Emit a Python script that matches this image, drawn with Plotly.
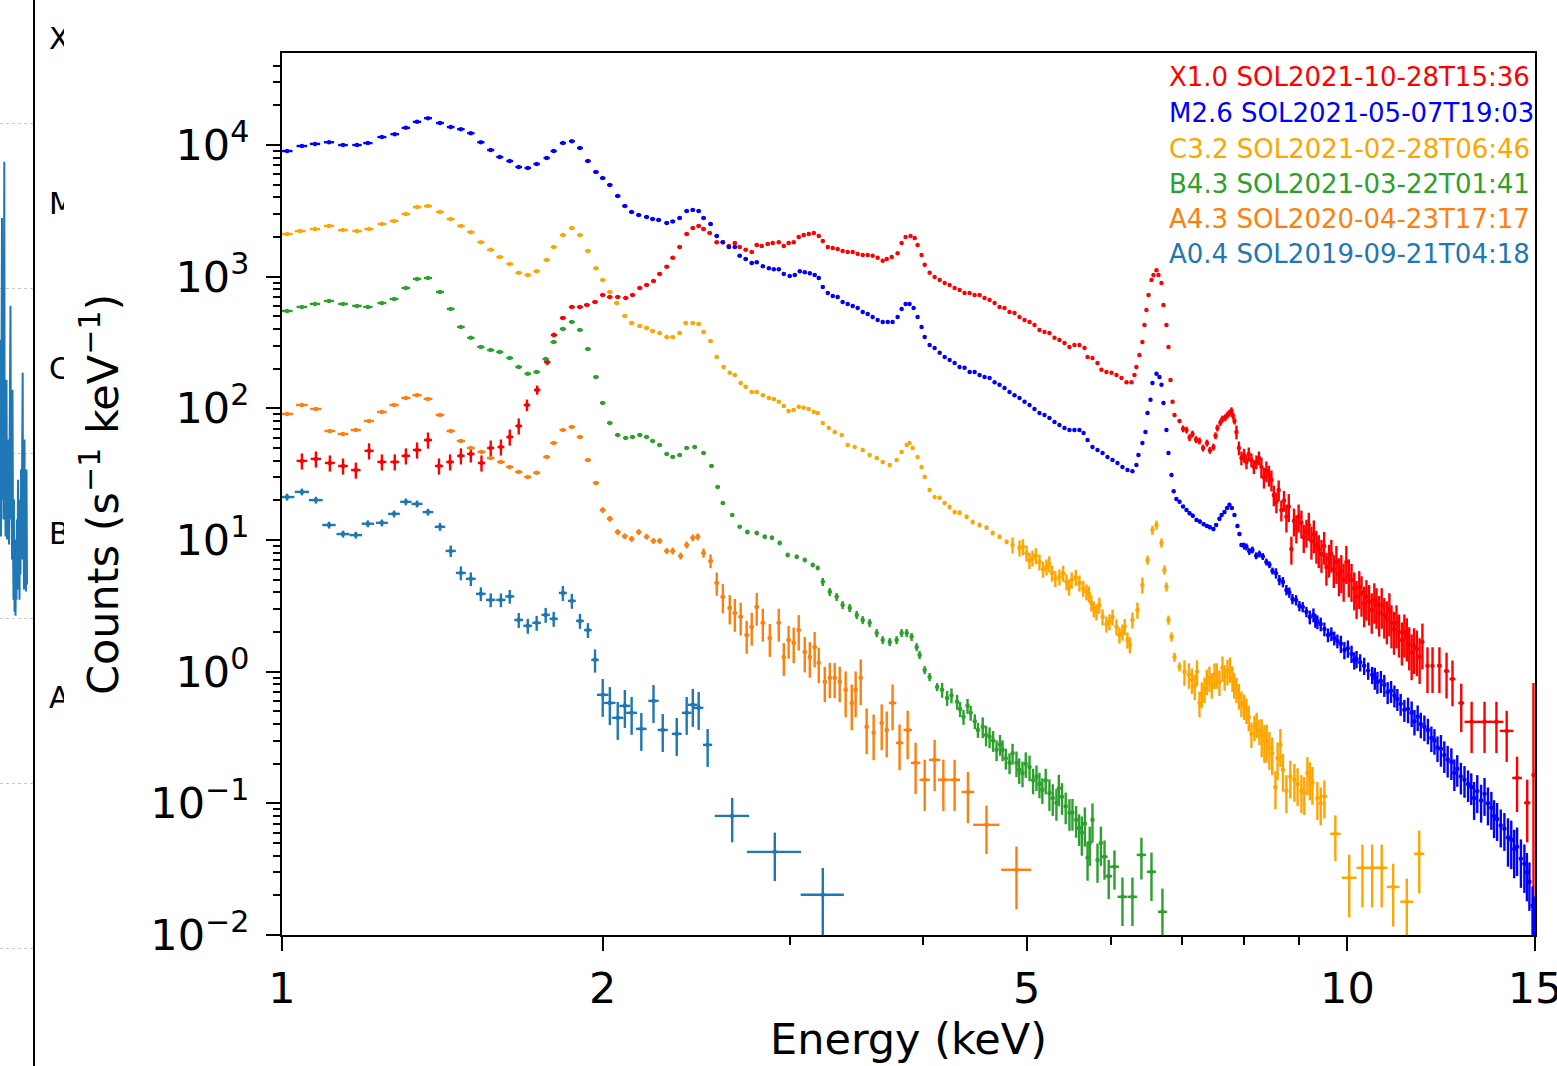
import plotly.graph_objects as go
import math

W, H = 1557, 1066

# ---------------- data ----------------
labels = ["X1.0 SOL2021-10-28T15:36", "M2.6 SOL2021-05-07T19:03", "C3.2 SOL2021-02-28T06:46",
          "B4.3 SOL2021-03-22T01:41", "A4.3 SOL2020-04-23T17:17", "A0.4 SOL2019-09-21T04:18"]
colors = ["#ff0000", "#0000ff", "#ffa500", "#2ca02c", "#ff7f0e", "#1f77b4"]

x10_energy = [
    1.044, 1.076, 1.109, 1.141, 1.173, 1.207, 1.241, 1.276, 1.307, 1.339,
    1.371, 1.404, 1.438, 1.472, 1.504, 1.539, 1.570, 1.605, 1.636, 1.668,
    1.698, 1.736, 1.774, 1.800, 1.835, 1.871, 1.904, 1.933, 1.967, 2.000,
    2.031, 2.066, 2.102, 2.133, 2.167, 2.199, 2.232, 2.262, 2.297, 2.327,
    2.362, 2.398, 2.430, 2.461, 2.487, 2.520, 2.559, 2.593, 2.627, 2.661,
    2.689, 2.724, 2.760, 2.790, 2.820, 2.857, 2.888, 2.926, 2.958, 2.989,
    3.022, 3.055, 3.088, 3.122, 3.156, 3.190, 3.218, 3.253, 3.288, 3.323,
    3.359, 3.396, 3.433, 3.470, 3.508, 3.546, 3.584, 3.623, 3.663, 3.695,
    3.735, 3.783, 3.816, 3.849, 3.890, 3.925, 3.950, 3.984, 4.011, 4.054,
    4.098, 4.143, 4.188, 4.233, 4.279, 4.325, 4.372, 4.420, 4.468, 4.516,
    4.565, 4.615, 4.665, 4.715, 4.766, 4.818, 4.870, 4.923, 4.977, 5.031,
    5.085, 5.140, 5.196, 5.252, 5.310, 5.367, 5.426, 5.484, 5.544, 5.604,
    5.666, 5.703, 5.764, 5.827, 5.877, 5.941, 6.006, 6.071, 6.137, 6.204,
    6.271, 6.311, 6.338, 6.380, 6.421, 6.449, 6.477, 6.506, 6.548, 6.576,
    6.619, 6.648, 6.691, 6.720, 6.763, 6.793, 6.823, 6.853, 6.882, 6.957,
    7.01, 7.063, 7.11, 7.155, 7.21, 7.264, 7.32, 7.383, 7.43, 7.486,
    7.52, 7.551, 7.60, 7.634, 7.68, 7.717, 7.75, 7.784, 7.81, 7.834,
    7.868, 7.91, 7.953, 8.00, 8.040, 8.08, 8.127, 8.17, 8.215, 8.26,
    8.304, 8.35, 8.394, 8.44, 8.486, 8.53, 8.578, 8.62, 8.670, 8.72,
    8.765, 8.81, 8.860, 8.91, 8.956, 9.00, 9.054, 9.10, 9.152, 9.20,
    9.252, 9.30, 9.352, 9.40, 9.455, 9.51, 9.557, 9.61, 9.659, 9.71,
    9.765, 9.82, 9.870, 9.92, 9.977, 10.03, 10.09, 10.15, 10.20, 10.26,
    10.31, 10.37, 10.42, 10.48, 10.54, 10.60, 10.65, 10.71, 10.77, 10.83,
    10.89, 10.95, 11.00, 11.06, 11.12, 11.18, 11.25, 11.31, 11.37, 11.43,
    11.49, 11.55, 11.62, 11.69, 11.76, 11.89, 12.02, 12.20, 12.39, 12.55,
    12.79, 13.08, 13.45, 13.80, 14.11, 14.43, 14.75, 14.95]
x10_counts = [
    39.9, 41.3, 38.5, 36.5, 34.0, 47.6, 39.2, 39.2, 43.6, 48.3,
    57.5, 36.5, 39.2, 43.6, 45.1, 38.5, 50.0, 50.9, 60.6, 73.5,
    106, 138, 225, 361, 486, 589, 589, 610, 643, 726,
    701, 701, 689, 726, 820, 865, 927, 1050, 1190, 1390,
    1680, 2110, 2340, 2430, 2300, 2150, 1830, 1830, 1710, 1800,
    1680, 1600, 1540, 1740, 1710, 1770, 1800, 1830, 1710, 1800,
    1830, 2000, 2070, 2110, 2150, 2040, 1870, 1680, 1650, 1620,
    1570, 1540, 1540, 1490, 1460, 1460, 1440, 1390, 1320, 1360,
    1410, 1510, 1800, 2000, 2040, 1970, 1740, 1460, 1230, 1070,
    995, 944, 896, 865, 820, 793, 752, 752, 726, 726,
    689, 666, 631, 589, 579, 540, 530, 495, 469, 453,
    430, 394, 380, 374, 343, 331, 314, 293, 303, 303,
    287, 246, 241, 221, 196, 189, 186, 179, 170, 158,
    158, 179, 206, 254, 319, 430, 559, 726, 944, 1030,
    1120, 1030, 896, 610, 430, 293, 164, 112, 89.1, 80.2,
    70, 68.5, 60, 63.9, 58, 56.6, 50, 54.6, 48, 50.9,
    62, 71.0, 78, 83.2, 85, 89.1, 92, 96.1, 88, 80.2,
    66.2, 50, 42.0, 44, 39.2, 45, 40.5, 36, 39.2, 42,
    35.9, 30, 33.5, 31, 28.6, 22, 19.5, 24, 16.9, 20,
    15.0, 18, 8.56, 14, 12.4, 15, 13.5, 10.5, 11.5, 13,
    9.85, 11, 9.18, 8.5, 7.83, 9.0, 6.25, 7.2, 7.83, 6.0,
    6.82, 5.5, 5.82, 5.0, 6.82, 5.4, 4.98, 4.3, 3.70, 4.4,
    3.96, 3.3, 3.70, 3.4, 2.94, 3.5, 3.21, 2.8, 3.21, 2.7,
    2.52, 2.9, 2.35, 2.1, 2.35, 2.0, 1.74, 2.0, 1.87, 1.6,
    1.39, 1.55, 1.49, 1.3, 1.68, 1.11, 1.11, 1.11, 1.01, 0.881,
    0.579, 0.416, 0.416, 0.416, 0.355, 0.156, 0.101, 0.164]
x10_relerr = ([0.14] * 20 + [0.1, 0.08, 0.05, 0.04, 0.03, 0.03, 0.03, 0.02, 0.02, 0.02]
              + [0.015] * 120 + [0.06] * 20 + [0.12] * 10 + [0.18] * 10 + [0.24] * 10
              + [0.28] * 10 + [0.32] * 10 + [0.34] * 10 + [0.36] * 10 + [0.38] * 10
              + [0.4, 0.42, 0.42, 0.42, 0.42, 0.45, 0.5, 4.0])
x10_halfwidth = [0.012] * 247 + [0.06, 0.07, 0.08, 0.08, 0.20, 0.20, 0.21, 0.21, 0.15, 0.10, 0.03]

m26_energy = [
    1.011, 1.044, 1.074, 1.107, 1.141, 1.176, 1.204, 1.241, 1.276, 1.307,
    1.339, 1.371, 1.407, 1.440, 1.472, 1.504, 1.537, 1.570, 1.601, 1.636,
    1.668, 1.701, 1.734, 1.772, 1.799, 1.835, 1.871, 1.904, 1.937, 1.971,
    2.000, 2.031, 2.066, 2.098, 2.129, 2.162, 2.199, 2.228, 2.257, 2.297,
    2.327, 2.362, 2.398, 2.430, 2.461, 2.487, 2.525, 2.559, 2.593, 2.627,
    2.661, 2.689, 2.724, 2.760, 2.790, 2.827, 2.864, 2.895, 2.926, 2.958,
    2.996, 3.029, 3.062, 3.095, 3.129, 3.162, 3.190, 3.218, 3.253, 3.288,
    3.323, 3.359, 3.396, 3.433, 3.470, 3.508, 3.546, 3.584, 3.623, 3.663,
    3.703, 3.742, 3.783, 3.816, 3.849, 3.882, 3.916, 3.950, 3.984, 4.011,
    4.054, 4.098, 4.143, 4.188, 4.233, 4.279, 4.325, 4.372, 4.420, 4.468,
    4.516, 4.565, 4.615, 4.665, 4.715, 4.766, 4.818, 4.870, 4.923, 4.977,
    5.031, 5.085, 5.140, 5.196, 5.252, 5.310, 5.367, 5.426, 5.484, 5.544,
    5.604, 5.654, 5.703, 5.764, 5.827, 5.891, 5.954, 6.019, 6.084, 6.150,
    6.217, 6.284, 6.338, 6.366, 6.421, 6.463, 6.492, 6.534, 6.562, 6.619,
    6.662, 6.691, 6.720, 6.763, 6.793, 6.838, 6.87, 6.91, 6.957, 7.01,
    7.063, 7.11, 7.16, 7.217, 7.27, 7.33, 7.383, 7.43, 7.486, 7.53,
    7.584, 7.62, 7.667, 7.71, 7.750, 7.79, 7.834, 7.885, 7.919, 7.953,
    8.00, 8.040, 8.09, 8.144, 8.21, 8.268, 8.33, 8.394, 8.45, 8.505,
    8.57, 8.633, 8.70, 8.765, 8.82, 8.880, 8.95, 9.015, 9.08, 9.152,
    9.22, 9.292, 9.33, 9.372, 9.44, 9.515, 9.59, 9.659, 9.72, 9.786,
    9.86, 9.935, 10.01, 10.09, 10.15, 10.20, 10.28, 10.37, 10.46, 10.55,
    10.61, 10.67, 10.75, 10.83, 10.91, 10.99, 11.07, 11.14, 11.22, 11.31,
    11.40, 11.49, 11.56, 11.64, 11.72, 11.81, 11.90, 11.99, 12.07, 12.15,
    12.24, 12.33, 12.42, 12.52, 12.60, 12.68, 12.78, 12.88, 12.98, 13.07,
    13.15, 13.24, 13.35, 13.45, 13.55, 13.65, 13.73, 13.82, 13.93, 14.04,
    14.15, 14.25, 14.34, 14.43, 14.55, 14.66, 14.74, 14.82, 14.92, 14.97]
m26_counts = [
    9000, 9830, 10200, 10500, 10000, 10000, 10350, 11500, 12100, 13500,
    15000, 16000, 14700, 13700, 13200, 12300, 10500, 9160, 8110, 7560,
    6810, 6690, 7170, 7970, 9000, 10350, 10700, 9490, 7560, 6240,
    5610, 4970, 4100, 3440, 3100, 2940, 2840, 2740, 2700, 2560,
    2630, 2790, 3150, 3210, 3150, 2790, 2510, 2040, 1830, 1680,
    1680, 1440, 1360, 1270, 1290, 1200, 1160, 1140, 1140, 1050,
    1010, 1030, 1100, 1080, 1060, 1030, 977, 835, 752, 713,
    700, 643, 621, 600, 579, 540, 521, 495, 469, 453,
    453, 453, 495, 569, 621, 621, 579, 495, 415, 348,
    303, 287, 264, 246, 233, 221, 206, 203, 189, 189,
    179, 173, 170, 158, 151, 143, 133, 126, 120, 112,
    106, 98.9, 92.2, 89.1, 84.5, 78.8, 74.8, 71.0, 68.5, 68.5,
    68.5, 65.0, 57.5, 50.9, 48.3, 45.8, 42.8, 40.5, 38.5, 35.9,
    34.0, 33.3, 37.1, 44.2, 54.6, 66.2, 92.2, 116, 156, 183,
    173, 151, 110, 68.5, 45.8, 31.2, 23.5, 20.5, 19.5, 18.0,
    16.9, 16.0, 15.3, 14.2, 13.8, 13.2, 12.8, 12.5, 12.1, 13.0,
    14.5, 15.5, 16.3, 17.5, 18.5, 17.5, 15.5, 12.8, 11.1, 9.18,
    9.0, 8.87, 8.2, 8.41, 7.6, 7.83, 7.5, 6.82, 6.5, 5.82,
    5.6, 4.98, 4.8, 4.18, 4.0, 3.57, 3.5, 3.16, 3.1, 2.85,
    2.6, 2.70, 2.45, 2.39, 2.3, 2.11, 1.9, 1.94, 1.80, 1.71,
    1.63, 1.46, 1.50, 1.37, 1.22, 1.25, 1.18, 1.11, 1.02, 0.946,
    0.90, 0.838, 0.85, 0.794, 0.70, 0.715, 0.66, 0.621, 0.57, 0.513,
    0.52, 0.487, 0.42, 0.454, 0.40, 0.381, 0.36, 0.314, 0.30, 0.264,
    0.26, 0.233, 0.215, 0.206, 0.17, 0.183, 0.16, 0.151, 0.14, 0.133,
    0.11, 0.124, 0.105, 0.118, 0.10, 0.0925, 0.08, 0.0762, 0.068, 0.0640,
    0.055, 0.0528, 0.045, 0.0468, 0.038, 0.0348, 0.030, 0.0254, 0.0167, 0.014]
m26_relerr = ([0.01] * 130 + [0.02] * 10 + [0.025] * 10 + [0.035] * 20 + [0.06] * 10
              + [0.09] * 10 + [0.12] * 10 + [0.15] * 10 + [0.19] * 10 + [0.22] * 10
              + [0.27] * 10 + [0.32] * 10 + [0.4] * 10)
m26_halfwidth = [0.012] * 260

c32_energy = [
    1.011, 1.040, 1.074, 1.107, 1.141, 1.176, 1.207, 1.241, 1.274, 1.307,
    1.339, 1.371, 1.407, 1.440, 1.472, 1.504, 1.537, 1.570, 1.601, 1.636,
    1.668, 1.701, 1.734, 1.772, 1.799, 1.835, 1.871, 1.904, 1.937, 1.971,
    2.000, 2.031, 2.062, 2.098, 2.129, 2.167, 2.199, 2.228, 2.262, 2.297,
    2.327, 2.362, 2.393, 2.430, 2.461, 2.487, 2.525, 2.559, 2.598, 2.632,
    2.661, 2.695, 2.724, 2.760, 2.790, 2.827, 2.864, 2.895, 2.926, 2.958,
    2.989, 3.022, 3.055, 3.088, 3.122, 3.156, 3.183, 3.218, 3.260, 3.302,
    3.352, 3.396, 3.448, 3.508, 3.561, 3.616, 3.663, 3.719, 3.775, 3.816,
    3.858, 3.882, 3.908, 3.950, 3.984, 4.011, 4.054, 4.098, 4.143, 4.188,
    4.233, 4.279, 4.325, 4.391, 4.449, 4.516, 4.584, 4.646, 4.715, 4.788,
    4.850, 4.923, 4.96, 4.998, 5.03, 5.063, 5.10, 5.140, 5.18, 5.218,
    5.25, 5.281, 5.32, 5.367, 5.41, 5.449, 5.48, 5.511, 5.56, 5.604,
    5.65, 5.690, 5.72, 5.750, 5.78, 5.814, 5.85, 5.891, 5.94, 5.980,
    6.02, 6.071, 6.11, 6.150, 6.18, 6.217, 6.25, 6.284, 6.352, 6.421,
    6.492, 6.562, 6.619, 6.691, 6.734, 6.763, 6.793, 6.838, 6.882, 6.957,
    7.032, 7.10, 7.147, 7.19, 7.225, 7.264, 7.30, 7.343, 7.38, 7.422,
    7.46, 7.503, 7.54, 7.584, 7.634, 7.67, 7.717, 7.76, 7.801, 7.83,
    7.868, 7.91, 7.953, 8.00, 8.040, 8.08, 8.127, 8.180, 8.22, 8.268,
    8.31, 8.358, 8.40, 8.449, 8.50, 8.560, 8.60, 8.652, 8.70, 8.765,
    8.84, 8.918, 8.98, 9.054, 9.11, 9.172, 9.22, 9.272, 9.372, 9.44,
    9.515, 9.744, 10.04, 10.33, 10.55, 10.77, 11.04, 11.37, 11.68]
c32_counts = [
    2110, 2220, 2300, 2430, 2260, 2220, 2300, 2510, 2650, 2990,
    3380, 3440, 3100, 2740, 2430, 2180, 1830, 1600, 1410, 1250,
    1070, 1030, 1100, 1340, 1680, 2070, 2340, 2070, 1570, 1160,
    944, 766, 631, 503, 445, 422, 408, 387, 374, 348,
    348, 374, 445, 445, 437, 380, 325, 246, 206, 186,
    179, 156, 146, 133, 133, 126, 120, 118, 112, 104,
    95.5, 97.3, 103, 101, 98.9, 93.9, 92.2, 77.5, 71.0, 66.2,
    62.8, 52.7, 50.9, 48.3, 44.2, 42.0, 39.2, 37.1, 40.5, 46.7,
    52.7, 54.6, 50.0, 42.8, 35.9, 30.1, 24.0, 21.2, 20.9, 19.1,
    17.8, 16.3, 16.1, 15.0, 13.7, 13.0, 12.4, 11.3, 10.6, 9.68,
    9.18, 8.72, 8.9, 7.98, 7.0, 7.31, 7.6, 6.82, 6.0, 6.25,
    6.6, 5.62, 5.1, 5.25, 5.6, 4.81, 4.4, 4.98, 5.2, 4.72,
    4.3, 4.04, 3.9, 3.33, 3.0, 2.85, 3.2, 2.61, 2.3, 2.39,
    2.6, 2.19, 1.9, 2.00, 2.2, 1.74, 1.6, 2.47, 2.94, 4.56,
    7.06, 11.9, 13.0, 9.51, 5.93, 4.41, 2.47, 1.84, 1.29, 1.09,
    1.00, 0.95, 0.867, 0.78, 1.00, 0.579, 0.68, 0.740, 0.85, 0.898,
    0.80, 0.946, 0.95, 0.838, 1.07, 0.92, 1.01, 1.05, 0.898, 0.80,
    0.740, 0.66, 0.579, 0.55, 0.513, 0.45, 0.337, 0.381, 0.40, 0.355,
    0.33, 0.298, 0.30, 0.264, 0.24, 0.133, 0.22, 0.278, 0.18, 0.124,
    0.16, 0.151, 0.14, 0.124, 0.12, 0.170, 0.155, 0.143, 0.110, 0.10,
    0.113, 0.0587, 0.0272, 0.0324, 0.0324, 0.0324, 0.0232, 0.0179, 0.0414]
c32_relerr = ([0.015] * 90 + [0.04] * 10 + [0.14] * 40 + [0.08] * 10 + [0.22] * 30
              + [0.32] * 20 + [0.32, 0.38, 0.5, 0.5, 0.5, 0.5, 0.5, 0.5, 0.5])
c32_halfwidth = [0.012] * 200 + [0.06, 0.11, 0.16, 0.13, 0.13, 0.13, 0.15, 0.16, 0.13]

b43_energy = [
    1.011, 1.044, 1.074, 1.107, 1.141, 1.176, 1.204, 1.241, 1.274, 1.307,
    1.339, 1.371, 1.407, 1.440, 1.472, 1.504, 1.537, 1.570, 1.601, 1.636,
    1.668, 1.701, 1.734, 1.768, 1.799, 1.835, 1.871, 1.904, 1.937, 1.971,
    2.000, 2.031, 2.066, 2.102, 2.133, 2.167, 2.199, 2.228, 2.262, 2.297,
    2.327, 2.362, 2.398, 2.440, 2.487, 2.530, 2.564, 2.593, 2.646, 2.689,
    2.734, 2.790, 2.839, 2.883, 2.932, 2.983, 3.042, 3.095, 3.149, 3.183,
    3.218, 3.267, 3.316, 3.359, 3.411, 3.463, 3.508, 3.561, 3.616, 3.663,
    3.719, 3.775, 3.816, 3.858, 3.899, 3.942, 3.967, 4.011, 4.054, 4.120,
    4.165, 4.210, 4.25, 4.302, 4.33, 4.362, 4.40, 4.430, 4.47, 4.500,
    4.547, 4.58, 4.615, 4.65, 4.685, 4.72, 4.746, 4.78, 4.818, 4.85,
    4.891, 4.92, 4.955, 4.99, 5.031, 5.07, 5.107, 5.14, 5.172, 5.21,
    5.252, 5.29, 5.332, 5.36, 5.397, 5.44, 5.484, 5.52, 5.564, 5.60,
    5.633, 5.67, 5.703, 5.73, 5.764, 5.827, 5.87, 5.916, 5.97, 6.045,
    6.150, 6.284, 6.407, 6.548, 6.705]
b43_counts = [
    549, 589, 621, 654, 621, 600, 589, 631, 677, 820,
    961, 977, 766, 569, 415, 343, 293, 277, 268, 241,
    206, 183, 189, 237, 319, 401, 453, 394, 282, 173,
    110, 77.5, 62.8, 59.6, 60.6, 62.8, 60.6, 56.6, 52.7, 45.1,
    42.8, 44.2, 50.0, 50.9, 45.8, 36.5, 25.3, 19.1, 15.5, 12.6,
    11.5, 11.3, 10.6, 10.4, 9.51, 7.71, 7.45, 7.06, 6.47, 6.14,
    4.81, 4.04, 3.70, 3.21, 3.05, 2.70, 2.47, 2.35, 1.97, 1.74,
    1.68, 1.74, 1.97, 1.97, 1.84, 1.54, 1.34, 1.03, 0.912, 0.766,
    0.728, 0.632, 0.66, 0.590, 0.52, 0.454, 0.55, 0.487, 0.42, 0.361,
    0.381, 0.33, 0.320, 0.30, 0.255, 0.28, 0.255, 0.22, 0.203, 0.24,
    0.203, 0.18, 0.170, 0.20, 0.189, 0.15, 0.159, 0.14, 0.127, 0.15,
    0.120, 0.11, 0.101, 0.13, 0.112, 0.095, 0.0847, 0.085, 0.0750, 0.065,
    0.0597, 0.07, 0.0386, 0.05, 0.0750, 0.0372, 0.05, 0.0393, 0.028, 0.0330,
    0.0195, 0.0195, 0.0406, 0.0302, 0.0150]
b43_relerr = ([0.02] * 50 + [0.04] * 10 + [0.07] * 20 + [0.13] * 10 + [0.18] * 10
              + [0.22] * 10 + [0.27] * 10 + [0.33] * 10 + [0.4, 0.4, 0.35, 0.4, 0.5])
b43_halfwidth = [0.012] * 127 + [0.04, 0.045, 0.06] + [0.065] * 5

a43_energy = [
    1.011, 1.044, 1.076, 1.109, 1.141, 1.173, 1.207, 1.241, 1.274, 1.307,
    1.339, 1.371, 1.407, 1.440, 1.472, 1.504, 1.539, 1.570, 1.605, 1.636,
    1.668, 1.701, 1.734, 1.772, 1.799, 1.835, 1.871, 1.904, 1.937, 1.971,
    2.000, 2.031, 2.066, 2.098, 2.129, 2.162, 2.199, 2.232, 2.262, 2.297,
    2.327, 2.367, 2.398, 2.430, 2.456, 2.487, 2.525, 2.559, 2.593, 2.632,
    2.661, 2.695, 2.730, 2.760, 2.790, 2.827, 2.870, 2.926, 2.958, 2.989,
    3.022, 3.055, 3.095, 3.129, 3.162, 3.190, 3.232, 3.267, 3.302, 3.338,
    3.381, 3.426, 3.455, 3.493, 3.538, 3.592, 3.655, 3.695, 3.742, 3.799,
    3.866, 3.933, 4.011, 4.098, 4.176, 4.279, 4.404, 4.584, 4.891]
a43_counts = [
    90.7, 106, 98.9, 67.3, 63.9, 68.5, 80.2, 93.9, 106, 120,
    126, 118, 89.1, 67.3, 56.6, 50.0, 46.7, 42.0, 39.2, 35.9,
    32.9, 30.1, 32.4, 42.8, 54.6, 68.5, 72.2, 60.6, 40.5, 27.1,
    16.9, 14.5, 11.5, 10.7, 10.2, 11.5, 10.6, 9.85, 9.85, 8.26,
    8.26, 7.57, 9.18, 10.4, 10.6, 7.98, 6.94, 4.72, 3.70, 3.05,
    2.79, 2.61, 1.90, 2.19, 3.10, 2.35, 1.80, 2.35, 1.29, 1.74,
    1.66, 2.07, 1.41, 1.29, 1.54, 1.17, 0.838, 0.898, 0.898, 0.838,
    0.728, 0.579, 0.728, 0.898, 0.381, 0.343, 0.409, 0.361, 0.579, 0.288,
    0.361, 0.203, 0.151, 0.214, 0.151, 0.151, 0.122, 0.0687, 0.0313]
a43_relerr = ([0.03] * 30 + [0.05] * 10 + [0.06, 0.06, 0.06, 0.06, 0.06, 0.08, 0.12, 0.2, 0.25, 0.25]
              + [0.28] * 10 + [0.3] * 10 + [0.38] * 10 + [0.4, 0.42, 0.42, 0.42, 0.42, 0.42, 0.42, 0.4, 0.5])
a43_halfwidth = [0.013] * 78 + [0.03, 0.03, 0.035, 0.04, 0.045, 0.05, 0.05, 0.05, 0.06, 0.13, 0.16]

a04_energy = [
    1.011, 1.044, 1.076, 1.107, 1.141, 1.173, 1.204, 1.241, 1.274, 1.307,
    1.339, 1.371, 1.407, 1.440, 1.472, 1.504, 1.537, 1.570, 1.605, 1.636,
    1.668, 1.701, 1.734, 1.768, 1.799, 1.835, 1.871, 1.904, 1.937, 1.967,
    2.000, 2.031, 2.066, 2.098, 2.129, 2.174, 2.232, 2.277, 2.347, 2.398,
    2.430, 2.461, 2.509, 2.646, 2.901, 3.218]
a04_counts = [
    21.2, 23.2, 20.1, 13.0, 11.1, 10.9, 13.3, 13.5, 15.8, 19.5,
    18.8, 16.3, 12.6, 8.26, 5.62, 5.07, 3.90, 3.51, 3.51, 3.73,
    2.47, 2.23, 2.35, 2.70, 2.52, 3.96, 3.45, 2.43, 2.07, 1.23,
    0.667, 0.579, 0.446, 0.550, 0.487, 0.368, 0.600, 0.361, 0.337, 0.487,
    0.560, 0.531, 0.278, 0.0803, 0.0428, 0.0202]
a04_relerr = ([0.06] * 10 + [0.06, 0.06, 0.07, 0.1, 0.12, 0.12, 0.12, 0.12, 0.12, 0.12]
              + [0.13] * 9 + [0.2] + [0.32] * 10 + [0.32, 0.32, 0.32, 0.37, 0.4, 0.6])
a04_halfwidth = [0.016] * 30 + [0.025] * 13 + [0.098, 0.17, 0.15]

# cropped neighbouring panel (GOES-like light curve) on the far left
goes_time = [0, 0.5, 1, 1.5, 2, 2.5, 3, 3.5, 4, 4.3,
             4.7, 5, 5.5, 6, 6.5, 7, 7.5, 8, 8.5, 9,
             9.5, 10, 10.5, 11, 11.5, 12, 12.5, 13, 13.5, 14,
             14.5, 15, 15.5, 16, 16.5, 17, 17.5, 18, 18.5, 19,
             19.5, 20, 20.5, 21, 21.5, 22, 22.7, 23, 23.5, 24,
             24.5, 25, 25.5, 26, 26.5, 27]
goes_flux = [6.95e-7, 4.91e-6, 3.14e-7, 1.61e-6, 2.69e-5, 5.26e-7, 4.27e-6, 3.98e-7, 8.57e-6, 5.89e-5,
             3.98e-7, 2.12e-6, 3.14e-7, 9.20e-7, 2.81e-6, 3.01e-7, 8.00e-7, 3.46e-7, 1.22e-6, 2.81e-7,
             6.95e-7, 2.12e-6, 7.88e-6, 3.98e-7, 1.06e-6, 2.28e-7, 2.44e-6, 3.01e-7, 1.30e-7, 5.26e-7,
             1.10e-7, 3.01e-7, 1.04e-7, 2.28e-7, 1.30e-7, 3.98e-7, 1.50e-7, 6.95e-7, 1.61e-7, 3.01e-7,
             1.30e-7, 5.26e-7, 1.85e-7, 8.00e-7, 2.28e-7, 1.61e-6, 3.10e-6, 2.28e-7, 6.95e-7, 1.50e-7,
             1.22e-6, 1.61e-7, 5.26e-7, 1.46e-7, 8.00e-7, 1.61e-7]
goes_class = ["X", "M", "C", "B", "A"]
goes_class_flux = [3.16e-4, 3.16e-5, 3.16e-6, 3.16e-7, 3.16e-8]
goes_levels = [1e-9, 1e-8, 1e-7, 1e-6, 1e-5, 1e-4]

x_ticks = [1, 2, 5, 10, 15]
x_ticktext = ["1", "2", "5", "10", "15"]
x_minor = [3, 4, 6, 7, 8, 9]
y_ticks = [1e-2, 1e-1, 1e0, 1e1, 1e2, 1e3, 1e4]
y_ticktext = ["10<sup>\u22122</sup>", "10<sup>\u22121</sup>", "10<sup>0</sup>", "10<sup>1</sup>",
              "10<sup>2</sup>", "10<sup>3</sup>", "10<sup>4</sup>"]

series = [
    (x10_energy, x10_counts, x10_relerr, x10_halfwidth),
    (m26_energy, m26_counts, m26_relerr, m26_halfwidth),
    (c32_energy, c32_counts, c32_relerr, c32_halfwidth),
    (b43_energy, b43_counts, b43_relerr, b43_halfwidth),
    (a43_energy, a43_counts, a43_relerr, a43_halfwidth),
    (a04_energy, a04_counts, a04_relerr, a04_halfwidth),
]

# ---------------- figure ----------------
FONT = "DejaVu Sans"
fig = go.Figure()

for (E, C, rel, hw), col, lab in zip(series, colors, labels):
    n = len(E)
    rel = (list(rel) + [rel[-1]] * n)[:n]
    hw = (list(hw) + [hw[-1]] * n)[:n]
    err = [c * r for c, r in zip(C, rel)]
    fig.add_trace(go.Scatter(
        x=E, y=C, mode="markers", name=lab, showlegend=False,
        marker=dict(color=col, size=4.5, line=dict(width=0)),
        error_x=dict(type="data", array=hw, color=col, thickness=2.4, width=0),
        error_y=dict(type="data", array=err, color=col, thickness=2.4, width=0),
        xaxis="x", yaxis="y", cliponaxis=True, hoverinfo="skip"))

# left cropped panel
fig.add_trace(go.Scatter(x=goes_time, y=goes_flux, mode="lines",
                         line=dict(color="#1f77b4", width=2), xaxis="x2", yaxis="y2",
                         showlegend=False, hoverinfo="skip"))
fig.add_trace(go.Scatter(x=[15] * len(goes_class), y=goes_class_flux, mode="text", text=goes_class,
                         textposition="middle right", textfont=dict(family=FONT, size=30, color="black"),
                         xaxis="x3", yaxis="y3", cliponaxis=True, showlegend=False, hoverinfo="skip"))

axis_font = dict(family=FONT, size=43, color="black")
lg_range = [-9.715, -3.248]

fig.update_layout(
    template="none",
    width=W, height=H, margin=dict(l=0, r=0, t=0, b=0, pad=0), autosize=False,
    paper_bgcolor="white", plot_bgcolor="white", showlegend=False,
    font=dict(family=FONT, color="black"),
    xaxis=dict(type="log", domain=[282 / W, 1535 / W], range=[0, math.log10(15)], anchor="y",
               automargin=False, ticklabeloverflow="allow",
               tickmode="array", tickvals=x_ticks, ticktext=x_ticktext,
               ticks="outside", ticklen=14, tickwidth=2, tickcolor="black",
               showline=True, linecolor="black", linewidth=2, mirror=True,
               showgrid=False, zeroline=False, tickfont=axis_font, ticklabelstandoff=0,
               minor=dict(tickmode="array", tickvals=x_minor, ticks="outside", ticklen=8,
                          tickwidth=1.5, tickcolor="black", showgrid=False)),
    yaxis=dict(type="log", domain=[1 - 935 / H, 1 - 53 / H], range=[-2, math.log10(5.0e4)], anchor="x",
               automargin=False, ticklabeloverflow="allow",
               tickmode="array", tickvals=y_ticks, ticktext=y_ticktext,
               ticks="outside", ticklen=14, tickwidth=2, tickcolor="black",
               showline=True, linecolor="black", linewidth=2, mirror=True,
               showgrid=False, zeroline=False, tickfont=axis_font, ticklabelstandoff=8,
               minor=dict(tickmode="array",
                          tickvals=[m * 10 ** k for k in range(-2, 5) for m in range(2, 10) if m * 10 ** k < 5e4],
                          ticks="outside", ticklen=7, tickwidth=1.5, tickcolor="black", showgrid=False)),
    xaxis2=dict(domain=[0, 33 / W], range=[0, 33], visible=False, anchor="y2", automargin=False),
    yaxis2=dict(type="log", domain=[0, 1], range=lg_range, anchor="x2", side="right", automargin=False,
                showline=True, linecolor="black", linewidth=2, ticks="", showticklabels=False,
                tickmode="array", tickvals=goes_levels, showgrid=True, gridcolor="#c8c8c8",
                griddash="dot", gridwidth=1, zeroline=False),
    xaxis3=dict(domain=[34 / W, 64 / W], range=[0, 30], visible=False, anchor="y3", automargin=False),
    yaxis3=dict(type="log", domain=[0, 1], range=lg_range, visible=False, anchor="x3", automargin=False),
)

annotations = []
legend_y = [77, 113, 149, 184, 219, 254]
for lab, col, yy in zip(labels, colors, legend_y):
    annotations.append(dict(x=1167 / W, y=1 - yy / H, xref="paper", yref="paper", text=lab,
                            showarrow=False, xanchor="left", yanchor="middle",
                            font=dict(family=FONT, size=26, color=col)))
annotations.append(dict(x=100 / W, y=1 - 495 / H, xref="paper", yref="paper",
                        text="Counts (s<sup>\u22121</sup> keV<sup>\u22121</sup>)", textangle=-90,
                        showarrow=False, xanchor="center", yanchor="middle", font=axis_font))
annotations.append(dict(x=908 / W, y=1 - 1039 / H, xref="paper", yref="paper", text="Energy (keV)",
                        showarrow=False, xanchor="center", yanchor="middle", font=axis_font))
fig.update_layout(annotations=annotations)

fig.write_html("out.html")
